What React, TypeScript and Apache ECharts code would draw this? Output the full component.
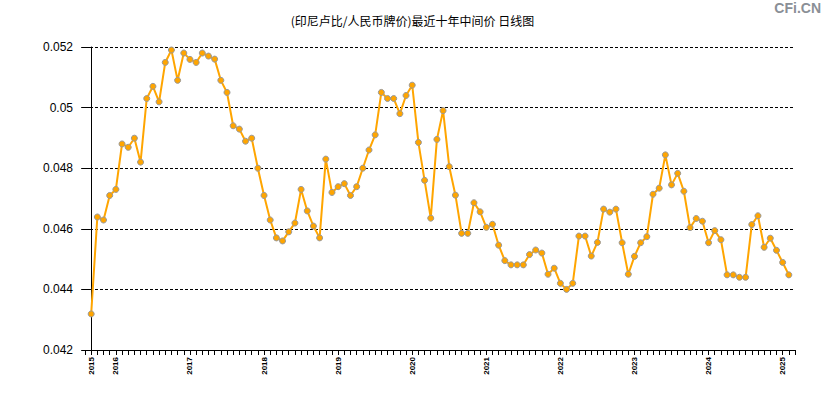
import React, { useEffect, useRef } from "react";
import * as echarts from "echarts";

const titleText = "(印尼卢比/人民币牌价)最近十年中间价 日线图";
const watermark = "CFi.CN";

const startYear = 2015;
const startMonth = 9;
const rates: number[] = [
  0.04319, 0.04639, 0.04629, 0.0471, 0.0473, 0.0488, 0.04869, 0.04899, 0.0482, 0.0503,
  0.0507, 0.05019, 0.05149, 0.0519, 0.0509, 0.0518, 0.05159, 0.05149, 0.0518, 0.0517,
  0.0516, 0.0509, 0.0505, 0.0494, 0.04929, 0.04889, 0.04899, 0.048, 0.0471, 0.04629,
  0.0457, 0.0456, 0.0459, 0.04619, 0.0473, 0.04659, 0.04609, 0.0457, 0.0483, 0.0472,
  0.04739, 0.04749, 0.0471, 0.04739, 0.048, 0.0486, 0.0491, 0.0505, 0.0503, 0.0503,
  0.0498, 0.0504, 0.05074, 0.04885, 0.0476, 0.04635, 0.04895, 0.0499, 0.04805, 0.04711,
  0.04585, 0.04585, 0.04686, 0.04656, 0.04605, 0.04615, 0.04546, 0.04495, 0.04481, 0.04481,
  0.04481, 0.04515, 0.0453, 0.0452, 0.0445, 0.0447, 0.0442, 0.044, 0.0442, 0.04576,
  0.04576, 0.0451, 0.04555, 0.04665, 0.04655, 0.04665, 0.04554, 0.0445, 0.04509, 0.04554,
  0.04574, 0.04714, 0.04734, 0.04844, 0.04745, 0.04783, 0.04724, 0.04604, 0.04634, 0.04625,
  0.04554, 0.04594, 0.04564, 0.04448, 0.04448, 0.0444, 0.0444, 0.04614, 0.04643, 0.04539,
  0.04569, 0.04529, 0.04489, 0.04448,
];

const months: string[] = rates.map((_, i) => {
  const m0 = startMonth - 1 + i;
  const y = startYear + Math.floor(m0 / 12);
  const m = (m0 % 12) + 1;
  return `${y}-${m < 10 ? "0" + m : m}`;
});

const yMin = 0.042;
const yMax = 0.052;
const yStep = 0.002;

export default function App() {
  const ref = useRef<HTMLDivElement>(null);
  useEffect(() => {
    if (!ref.current) return;
    const chart = echarts.init(ref.current, null, { renderer: "svg" });
    chart.setOption({
      animation: false,
      backgroundColor: "#fff",
      title: {
        text: titleText,
        left: "center",
        top: 9,
        textStyle: {
          fontSize: 12,
          fontWeight: "normal",
          color: "#000",
          fontFamily: "Noto Sans CJK SC",
        },
      },
      graphic: [
        {
          type: "text",
          right: 4,
          top: 1,
          style: {
            text: watermark,
            fontSize: 14,
            fontWeight: "bold",
            fill: "#8a8f96",
            fontFamily: "Liberation Sans, Arial",
          },
        },
      ],
      grid: { left: 85, right: 30, top: 47, bottom: 50, containLabel: false },
      xAxis: {
        type: "value",
        min: -1,
        max: months.length,
        interval: 1,
        axisLine: { show: true, lineStyle: { color: "#000", width: 1 } },
        axisTick: { show: true, length: 5, lineStyle: { color: "#000" } },
        splitLine: { show: false },
        axisLabel: {
          rotate: 90,
          fontSize: 8,
          fontWeight: "bold",
          color: "#000",
          margin: 7,
          fontFamily: "Liberation Sans, Arial",
          showMinLabel: true,
          showMaxLabel: true,
          formatter: (v: number) => {
            const i = Math.round(v);
            if (i < 0 || i >= months.length) return "";
            const s = months[i];
            if (i === 0 || s.endsWith("-01")) return s.slice(0, 4);
            return "";
          },
        },
      },
      yAxis: {
        type: "value",
        min: yMin,
        max: yMax,
        interval: yStep,
        axisLine: { show: true, lineStyle: { color: "#000", width: 1 } },
        axisTick: { show: true, length: 10, lineStyle: { color: "#000" } },
        axisLabel: {
          fontSize: 12,
          color: "#000",
          margin: 12,
          fontFamily: "Liberation Sans, Arial",
        },
        splitLine: {
          show: true,
          lineStyle: { color: "#000", type: [3, 2], width: 1 },
        },
      },
      series: [
        {
          type: "line",
          data: rates.map((v, i) => [i, v]),
          symbol: "circle",
          symbolSize: 6,
          showSymbol: true,
          lineStyle: { color: "#FFA500", width: 2 },
          itemStyle: { color: "#FFA500", borderColor: "#999", borderWidth: 1 },
        },
      ],
    });
    return () => chart.dispose();
  }, []);
  return (
    <div
      ref={ref}
      style={{ position: "absolute", left: 0, top: 0, width: 825, height: 400 }}
    />
  );
}
